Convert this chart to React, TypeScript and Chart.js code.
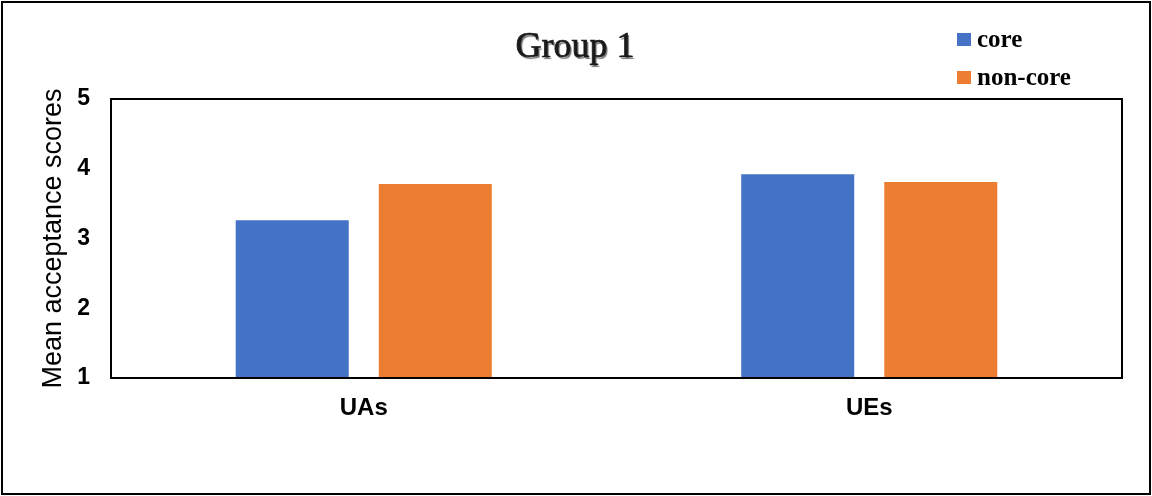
import React, { useEffect, useRef } from "react";
import { Chart, registerables } from "chart.js";

Chart.register(...registerables);

const titleText = "Group 1";
const categories = ["UAs", "UEs"];
const seriesNames = ["core", "non-core"];
const coreValues = [3.26, 3.92];
const nonCoreValues = [3.78, 3.81];
const seriesColors = ["#4472C4", "#ED7D31"];
const yAxisTitle = "Mean acceptance scores";
const yMin = 1;
const yMax = 5;

const decorPlugin = {
  id: "decor",
  afterDraw(chart: any) {
    const { ctx, chartArea } = chart;
    ctx.save();
    // plot frame
    ctx.strokeStyle = "#000";
    ctx.lineWidth = 2;
    ctx.strokeRect(chartArea.left, chartArea.top, chartArea.right - chartArea.left, chartArea.bottom - chartArea.top);
    // title
    ctx.font = "36px 'Liberation Serif', 'Times New Roman', serif";
    ctx.textAlign = "center";
    ctx.textBaseline = "alphabetic";
    ctx.shadowColor = "rgba(0,0,0,0.55)";
    ctx.shadowOffsetX = 1.5;
    ctx.shadowOffsetY = 1.5;
    ctx.shadowBlur = 1;
    ctx.fillStyle = "#1a1a1a";
    ctx.strokeStyle = "#1a1a1a";
    ctx.lineWidth = 0.7;
    ctx.fillText(titleText, 575, 57);
    ctx.shadowColor = "transparent";
    ctx.strokeText(titleText, 575, 57);
    // legend
    const ds = chart.data.datasets;
    const rows = [40, 78];
    ctx.font = "bold 25px 'Liberation Serif', 'Times New Roman', serif";
    ctx.textAlign = "left";
    ctx.textBaseline = "middle";
    ds.forEach((d: any, i: number) => {
      const cy = rows[i];
      ctx.fillStyle = d.backgroundColor;
      ctx.fillRect(957, cy - 7, 14, 13);
      ctx.fillStyle = "#000";
      ctx.fillText(d.label, 977, cy + 1);
    });
    ctx.restore();
  },
};

export default function App() {
  const ref = useRef<HTMLCanvasElement | null>(null);
  useEffect(() => {
    if (!ref.current) return;
    const chart = new Chart(ref.current, {
      type: "bar",
      data: {
        labels: categories,
        datasets: [
          { label: seriesNames[0], data: coreValues, backgroundColor: seriesColors[0] },
          { label: seriesNames[1], data: nonCoreValues, backgroundColor: seriesColors[1] },
        ],
      },
      options: {
        responsive: false,
        animation: false,
        layout: { padding: { left: 0, top: 99, right: 30, bottom: 78 } },
        plugins: {
          legend: { display: false },
          title: { display: false },
          tooltip: { enabled: false },
        },
        datasets: {
          bar: { categoryPercentage: 0.566, barPercentage: 0.79 },
        },
        scales: {
          x: {
            grid: { display: false, drawTicks: false },
            border: { display: false },
            ticks: {
              color: "#000",
              padding: 16,
              font: { family: "'Liberation Sans', Arial, sans-serif", size: 24, weight: "bold" },
            },
            afterFit(scale: any) {
              scale.height = 40;
            },
          },
          y: {
            min: yMin,
            max: yMax,
            grid: { display: false, drawTicks: false },
            border: { display: false },
            ticks: {
              stepSize: 1,
              color: "#000",
              padding: 21,
              font: { family: "'Liberation Sans', Arial, sans-serif", size: 23, weight: "bold" },
            },
            title: {
              display: true,
              text: yAxisTitle,
              color: "#000",
              padding: { top: 37, bottom: 0 },
              font: { family: "'Liberation Sans', Arial, sans-serif", size: 27 },
            },
            afterFit(scale: any) {
              scale.width = 111;
            },
          },
        },
      },
      plugins: [decorPlugin],
    });
    return () => chart.destroy();
  }, []);

  return (
    <div style={{ position: "fixed", left: 0, top: 0, width: 1152, height: 496, background: "#fff" }}>
      <canvas ref={ref} width={1152} height={496} style={{ position: "absolute", left: 0, top: 0 }} />
      <div
        style={{
          position: "absolute",
          left: 1,
          top: 1,
          width: 1150,
          height: 494,
          border: "2px solid #000",
          boxSizing: "border-box",
          pointerEvents: "none",
        }}
      />
    </div>
  );
}
